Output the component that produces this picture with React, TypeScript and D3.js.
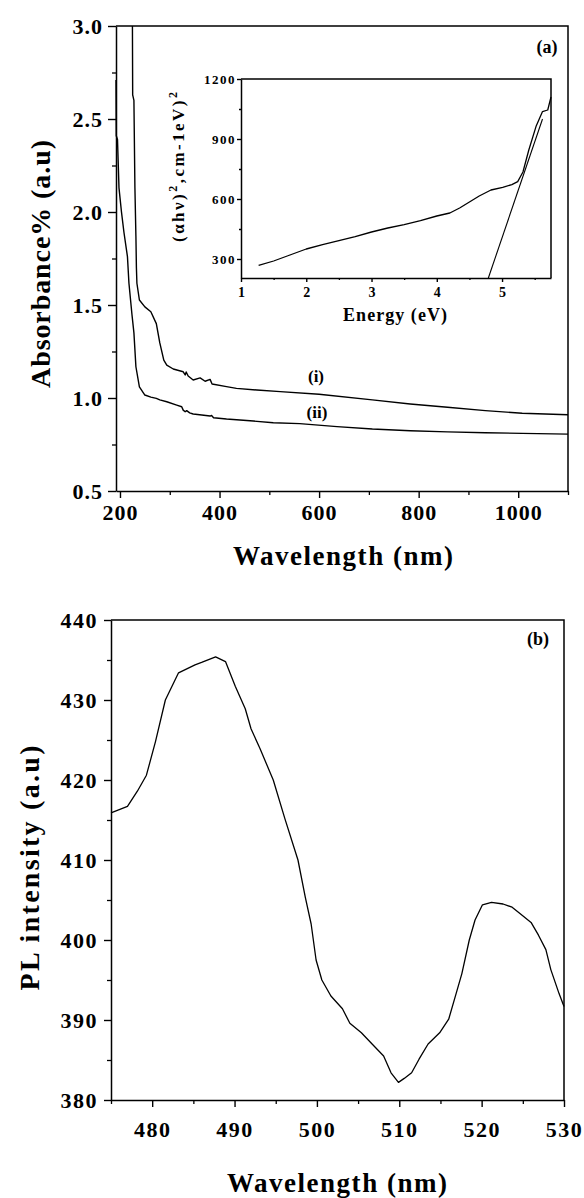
import React, { useEffect, useRef } from 'react';
import * as d3 from 'd3';

// absorbance curves, wavelength (nm) -> absorbance
const curveI: [number, number][] = [
  [225, 3.0], [225.5, 2.63], [228, 2.6], [230, 2.13], [232, 1.87], [233, 1.7], [234, 1.617],
  [239, 1.527], [250, 1.49], [262, 1.464], [273, 1.4], [280, 1.296], [288, 1.204], [294, 1.177],
  [307, 1.156], [327, 1.141], [331, 1.124], [333, 1.14], [337, 1.118], [347, 1.097], [361, 1.108],
  [371, 1.09], [381, 1.1], [385, 1.075], [414, 1.061], [434, 1.052], [475, 1.043], [522, 1.034],
  [600, 1.02], [707, 0.99], [783, 0.968], [858, 0.95], [934, 0.932], [1008, 0.918], [1100, 0.91]
];
const curveII: [number, number][] = [
  [192, 2.71], [192.5, 2.41], [195, 2.39], [198, 2.13], [203, 2.0], [208, 1.89], [215, 1.76],
  [218, 1.617], [224, 1.45], [228, 1.35], [232, 1.168], [239, 1.06], [250, 1.016], [262, 1.005],
  [273, 0.998], [280, 0.99], [294, 0.98], [314, 0.962], [324, 0.953], [327, 0.935], [331, 0.926],
  [334, 0.932], [340, 0.92], [347, 0.914], [360, 0.91], [381, 0.903], [384, 0.906], [388, 0.894],
  [414, 0.887], [468, 0.876], [508, 0.867], [561, 0.862], [636, 0.846], [707, 0.833], [783, 0.824],
  [858, 0.818], [934, 0.813], [1008, 0.81], [1100, 0.806]
];

// inset: energy (eV) -> (ahv)^2
const tauc: [number, number][] = [
  [1.27, 268], [1.5, 290], [1.75, 320], [2.0, 350], [2.25, 372], [2.5, 392], [2.75, 412], [3.0, 435],
  [3.25, 455], [3.5, 472], [3.75, 492], [4.0, 515], [4.2, 530], [4.35, 555], [4.5, 585], [4.65, 615],
  [4.83, 645], [5.01, 658], [5.15, 672], [5.24, 687], [5.32, 735], [5.41, 845], [5.52, 962],
  [5.62, 1037], [5.7, 1045], [5.75, 1110]
];
const taucFit: [number, number][] = [[4.79, 205], [5.62, 1000]];

// photoluminescence: wavelength (nm) -> intensity
const plData: [number, number][] = [
  [475, 415.9], [476, 416.3], [477, 416.7], [478.2, 418.6], [479.3, 420.6], [480.4, 424.8],
  [481.6, 430], [483.2, 433.4], [485.2, 434.4], [486, 434.7], [487.7, 435.4], [488.9, 434.8],
  [490.1, 431.7], [491.3, 428.9], [492, 426.4], [493.1, 423.9], [494.7, 420], [496.1, 415.2],
  [497.7, 410], [498.6, 405.3], [499.3, 402], [499.9, 397.5], [500.6, 395], [501.7, 393],
  [503.1, 391.4], [504, 389.6], [505.4, 388.4], [506.7, 387], [508.1, 385.5], [509, 383.4],
  [509.9, 382.2], [510.6, 382.7], [511.5, 383.4], [512.4, 385.1], [513.5, 387], [514.9, 388.4],
  [516, 390.1], [516.9, 393.3], [517.6, 395.8], [518.5, 400], [519.2, 402.5], [520.1, 404.4],
  [521.2, 404.7], [522.6, 404.5], [523.7, 404.1], [524.8, 403.2], [526, 402.2], [526.9, 400.6],
  [527.8, 398.8], [528.4, 396.3], [529.4, 393.3], [530, 391.7]
];

const absYTicks = [0.5, 1.0, 1.5, 2.0, 2.5, 3.0];
const absYMinor = [0.75, 1.25, 1.75, 2.25, 2.75];
const absXTicks = [200, 400, 600, 800, 1000];
const absXMinor = [300, 500, 700, 900, 1100];
const insetYTicks = [300, 600, 900, 1200];
const insetYMinor = [450, 750, 1050];
const insetXTicks = [1, 2, 3, 4, 5];
const insetXMinor = [1.5, 2.5, 3.5, 4.5, 5.5];
const plYTicks = [380, 390, 400, 410, 420, 430, 440];
const plYMinor = [385, 395, 405, 415, 425, 435];
const plXTicks = [480, 490, 500, 510, 520, 530];
const plXMinor = [475, 485, 495, 505, 515, 525];

const FONT = 'Liberation Serif';

const App = () => {
  const svgRef = useRef<SVGSVGElement>(null);

  useEffect(() => {
    const svg = d3.select(svgRef.current);
    svg.selectAll('*').remove();
    svg.style('font-family', FONT).attr('font-weight', 'bold');

    const axisStyle = (g: any, fontSize: number, spacing: number) => {
      g.attr('font-family', null);
      g.select('.domain').attr('stroke', '#000').attr('stroke-width', 1.5);
      g.selectAll('.tick line').attr('stroke', '#000').attr('stroke-width', 1.4);
      g.selectAll('text')
        .attr('fill', '#000')
        .style('font-family', FONT)
        .style('font-weight', 'bold')
        .style('font-size', fontSize + 'px')
        .style('letter-spacing', spacing + 'px');
    };

    const minor = (g: any) => {
      g.select('.domain').remove();
      g.selectAll('line').attr('stroke', '#000').attr('stroke-width', 1.3);
    };

    const frame = (x0: number, x1: number, y0: number, y1: number) => {
      svg.append('path')
        .attr('d', `M${x0},${y0}H${x1}V${y1}`)
        .attr('fill', 'none')
        .attr('stroke', '#000')
        .attr('stroke-width', 1.5);
    };

    const text = (x: number, y: number, s: string, size: number, len?: number, rotate = false) => {
      const t = svg.append('text')
        .attr('transform', rotate ? `translate(${x},${y}) rotate(-90)` : `translate(${x},${y})`)
        .attr('text-anchor', 'middle')
        .style('font-family', FONT)
        .style('font-weight', 'bold')
        .style('font-size', size + 'px')
        .text(s);
      if (len) t.attr('textLength', len).attr('lengthAdjust', 'spacing');
      return t;
    };

    // ---------- panel (a): absorbance ----------
    const xA = d3.scaleLinear().domain([192, 1100]).range([116, 568]);
    const yA = d3.scaleLinear().domain([0.5, 3.0]).range([491, 26]);

    const gxA = svg.append('g').attr('transform', `translate(0,${yA(0.5)})`)
      .call(d3.axisBottom(xA).tickValues(absXTicks).tickSize(7).tickSizeOuter(0).tickFormat(d3.format('d')));
    axisStyle(gxA, 22, 1);
    gxA.selectAll('text').attr('dy', null).attr('y', 29);
    svg.append('g').attr('transform', `translate(0,${yA(0.5)})`)
      .call(d3.axisBottom(xA).tickValues(absXMinor).tickSize(4).tickFormat(() => ''))
      .call(minor);

    const gyA = svg.append('g').attr('transform', `translate(${xA(192)},0)`)
      .call(d3.axisLeft(yA).tickValues(absYTicks).tickSize(8).tickSizeOuter(0).tickFormat(d3.format('.1f')));
    axisStyle(gyA, 22, 1);
    gyA.selectAll('text').attr('dy', '0.32em').attr('x', -13);
    svg.append('g').attr('transform', `translate(${xA(192)},0)`)
      .call(d3.axisLeft(yA).tickValues(absYMinor).tickSize(4).tickFormat(() => ''))
      .call(minor);

    frame(116, 568, 26, 491);

    const lineA = d3.line<[number, number]>().x(d => xA(d[0])).y(d => yA(d[1]));
    [curveI, curveII].forEach(c => {
      svg.append('path').attr('d', lineA(c)).attr('fill', 'none')
        .attr('stroke', '#000').attr('stroke-width', 1.4).attr('stroke-linejoin', 'round');
    });

    text(316, 382, '(i)', 17);
    text(317, 418, '(ii)', 17);
    text(547, 53, '(a)', 18);
    text(343, 565, 'Wavelength (nm)', 27, 220);
    text(50, 264, 'Absorbance% (a.u)', 28, 248, true);

    // ---------- inset: Tauc plot ----------
    const xI = d3.scaleLinear().domain([1, 5.75]).range([241, 551]);
    const yI = d3.scaleLinear().domain([205, 1200]).range([278, 79]);

    const gxI = svg.append('g').attr('transform', `translate(0,${yI(205)})`)
      .call(d3.axisBottom(xI).tickValues(insetXTicks).tickSize(4).tickSizeOuter(0).tickFormat(d3.format('d')));
    axisStyle(gxI, 14, 0);
    gxI.selectAll('text').attr('dy', null).attr('y', 19);
    svg.append('g').attr('transform', `translate(0,${yI(205)})`)
      .call(d3.axisBottom(xI).tickValues(insetXMinor).tickSize(2).tickFormat(() => ''))
      .call(minor);

    const gyI = svg.append('g').attr('transform', `translate(${xI(1)},0)`)
      .call(d3.axisLeft(yI).tickValues(insetYTicks).tickSize(4).tickSizeOuter(0).tickFormat(d3.format('d')));
    axisStyle(gyI, 13, 1.5);
    gyI.selectAll('text').attr('dy', '0.32em').attr('x', -5);
    svg.append('g').attr('transform', `translate(${xI(1)},0)`)
      .call(d3.axisLeft(yI).tickValues(insetYMinor).tickSize(2).tickFormat(() => ''))
      .call(minor);

    frame(241, 551, 79, 278);

    const lineI = d3.line<[number, number]>().x(d => xI(d[0])).y(d => yI(d[1]));
    svg.append('path').attr('d', lineI(tauc)).attr('fill', 'none')
      .attr('stroke', '#000').attr('stroke-width', 1.3).attr('stroke-linejoin', 'round');
    svg.append('path').attr('d', lineI(taucFit)).attr('fill', 'none')
      .attr('stroke', '#000').attr('stroke-width', 1.1);

    text(395, 321, 'Energy (eV)', 18, 104);
    const yl = svg.append('text')
      .attr('transform', 'translate(184,167) rotate(-90)')
      .attr('text-anchor', 'middle')
      .style('font-family', FONT)
      .style('font-weight', 'bold')
      .style('font-size', '17px')
      .attr('textLength', 150)
      .attr('lengthAdjust', 'spacing');
    yl.append('tspan').text('(αhν)');
    yl.append('tspan').attr('dy', -7).style('font-size', '12px').text('2');
    yl.append('tspan').attr('dy', 7).text(',cm-1eV)');
    yl.append('tspan').attr('dy', -7).style('font-size', '12px').text('2');

    // ---------- panel (b): PL ----------
    const xB = d3.scaleLinear().domain([475, 530]).range([111, 564]);
    const yB = d3.scaleLinear().domain([380, 440]).range([1100, 620]);

    const gxB = svg.append('g').attr('transform', `translate(0,${yB(380)})`)
      .call(d3.axisBottom(xB).tickValues(plXTicks).tickSize(7).tickSizeOuter(0).tickFormat(d3.format('d')));
    axisStyle(gxB, 22, 1.5);
    gxB.selectAll('text').attr('dy', null).attr('y', 37);
    svg.append('g').attr('transform', `translate(0,${yB(380)})`)
      .call(d3.axisBottom(xB).tickValues(plXMinor).tickSize(4).tickFormat(() => ''))
      .call(minor);

    const gyB = svg.append('g').attr('transform', `translate(${xB(475)},0)`)
      .call(d3.axisLeft(yB).tickValues(plYTicks).tickSize(7).tickSizeOuter(0).tickFormat(d3.format('d')));
    axisStyle(gyB, 22, 1.5);
    gyB.selectAll('text').attr('dy', '0.32em').attr('x', -13);
    svg.append('g').attr('transform', `translate(${xB(475)},0)`)
      .call(d3.axisLeft(yB).tickValues(plYMinor).tickSize(4).tickFormat(() => ''))
      .call(minor);

    frame(111, 564, 620, 1100);

    const lineB = d3.line<[number, number]>().x(d => xB(d[0])).y(d => yB(d[1]));
    svg.append('path').attr('d', lineB(plData)).attr('fill', 'none')
      .attr('stroke', '#000').attr('stroke-width', 1.3).attr('stroke-linejoin', 'round');

    text(538, 645, '(b)', 18);
    text(337, 1192, 'Wavelength (nm)', 27, 220);
    text(39, 868, 'PL intensity (a.u)', 28, 245, true);
  }, []);

  return (
    <div style={{ position: 'absolute', left: 0, top: 0, background: '#fff' }}>
      <svg ref={svgRef} width={584} height={1198} style={{ display: 'block' }}></svg>
    </div>
  );
};

export default App;
